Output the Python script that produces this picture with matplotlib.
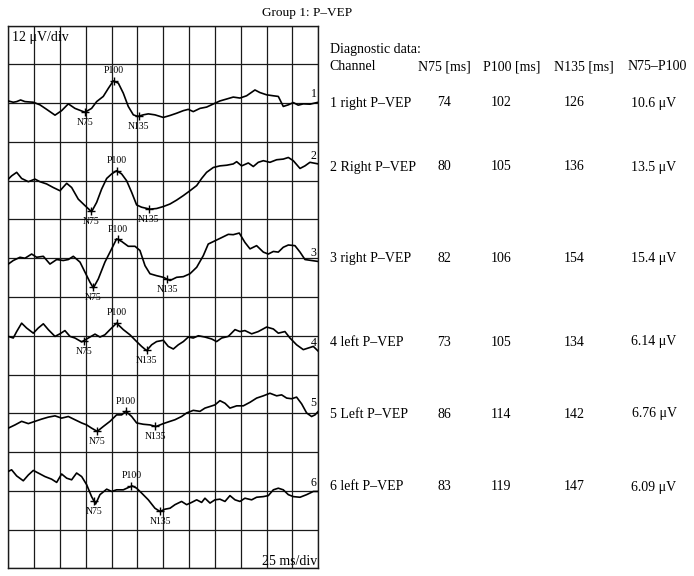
import numpy as np
import matplotlib
matplotlib.use("Agg")
import matplotlib.pyplot as plt

plt.rcParams['font.family'] = ['Liberation Serif', 'DejaVu Serif']

# ---------------- data ----------------
title = "Group 1: P\u2013VEP"
v_scale_label = "12 \u03bcV/div"
t_scale_label = "25 ms/div"
uv_per_div = 12
ms_per_div = 25
n_h_div = 12
n_v_div = 14

channel_ids = [1, 2, 3, 4, 5, 6]
channel_sides = ["right", "Right", "right", "left", "Left", "left"]
n75_ms = [74, 80, 82, 73, 86, 83]
p100_ms = [102, 105, 106, 105, 114, 119]
n135_ms = [126, 136, 154, 134, 142, 147]
n75_p100_uv = ["10.6", "13.5", "15.4", "6.14", "6.76", "6.09"]

ch1_t = [0, 4.8, 8.1, 11.9, 16.1, 24.2, 30.6, 37.1, 45.2, 51.6, 58.1, 64.5, 74.2, 80.6, 85.5, 91.9,
         96.8, 101.6, 106.5, 111.3, 116.1, 121.0, 125.2, 130.6, 135.5, 141.9, 150.0, 156.5, 162.9,
         169.4, 174.2, 179.0, 185.5, 191.9, 200.0, 204.8, 211.3, 217.7, 224.2, 230.6, 238.7, 243.5,
         250.0, 256.5, 261.3, 266.1, 271.0, 275.8, 280.6, 285.5, 291.9, 300.0]
ch1_v = [0.7, 0.3, 0.5, 1.0, 0.5, 0.3, -0.5, -1.9, -3.7, -2.3, -0.2, -1.6, -2.8, -1.6, 0.5, 2.1,
         4.6, 6.9, 6.2, 3.1, -1.0, -3.6, -4.1, -3.6, -3.3, -3.6, -4.4, -3.8, -3.1,
         -2.3, -1.9, -2.6, -1.6, -1.2, 0.0, 0.7, 1.3, 1.9, 1.6, 2.3, 4.1, 3.3,
         2.6, 2.3, 2.1, -1.0, -0.5, 0.2, -0.6, -0.2, -0.3, 0.3]

ch2_t = [0, 3.2, 8.1, 12.9, 19.4, 25.8, 30.6, 37.1, 43.5, 50.0, 56.5, 61.3, 67.7, 74.2, 80.6, 85.5,
         90.3, 95.2, 100.0, 104.8, 109.7, 114.5, 119.4, 124.2, 129.0, 137.1, 143.5, 150.0, 156.5,
         162.9, 169.4, 175.8, 182.3, 187.1, 191.9, 198.4, 204.8, 211.3, 217.7, 221.0, 225.8, 232.3,
         237.1, 241.9, 246.8, 253.2, 259.7, 266.1, 271.0, 275.8, 282.3, 287.1, 291.9, 300.0]
ch2_v = [0.5, 1.5, 2.6, 0.7, -0.3, 0.5, -0.3, -1.0, -2.1, -3.1, -0.8, -2.1, -5.7, -7.7, -9.6, -6.7,
         -2.6, 0.7, 2.1, 3.1, 2.1, 0.0, -3.6, -7.5, -8.2, -8.8, -8.6, -8.0, -7.2,
         -6.0, -4.6, -3.1, -1.5, 0.7, 2.6, 4.1, 4.6, 4.8, 5.2, 5.9, 4.6, 5.5,
         4.4, 5.7, 6.2, 5.7, 6.5, 6.7, 7.2, 6.2, 3.8, 4.6, 5.7, 5.2]

ch3_t = [0, 4.8, 11.3, 16.1, 22.6, 27.4, 33.9, 40.3, 46.8, 53.2, 58.1, 62.9, 69.4, 74.2, 79.0, 82.3,
         87.1, 93.5, 100.0, 104.8, 109.7, 116.1, 122.6, 127.4, 132.3, 137.1, 143.5, 150.0, 156.5,
         162.9, 169.4, 175.8, 182.3, 188.7, 193.5, 200.0, 206.5, 212.9, 217.7, 223.5, 229.0, 233.9,
         240.3, 246.8, 251.6, 256.5, 261.3, 266.1, 271.0, 277.4, 282.3, 287.1, 293.5, 300.0]
ch3_v = [-1.8, -0.7, 0.3, 0.0, 1.3, 0.3, 0.6, -1.8, -0.4, -0.7, -0.4, 0.6, -1.2, -4.3, -7.4, -9.2,
         -6.4, -1.2, 2.9, 6.0, 5.2, 3.7, 3.7, 2.4, -2.3, -4.8, -5.4, -5.9, -6.9,
         -5.9, -5.7, -4.8, -2.8, 0.8, 4.4, 5.4, 6.4, 7.4, 7.3, 7.8, 4.9, 2.9,
         3.9, 1.9, 1.3, 2.1, 1.9, 3.4, 4.1, 3.9, 1.9, -0.4, -0.7, -1.0]

ch4_t = [0, 4.8, 8.1, 12.9, 17.7, 24.2, 29.0, 33.9, 38.7, 45.2, 50.0, 54.8, 59.7, 64.5, 71.0, 77.4,
         83.9, 88.7, 93.5, 98.4, 104.8, 111.3, 117.7, 124.2, 129.0, 133.9, 138.7, 143.5, 150.0,
         154.8, 159.7, 164.5, 169.4, 174.2, 179.0, 183.9, 190.3, 196.8, 201.6, 206.5, 212.9, 219.4,
         224.2, 229.0, 235.5, 241.9, 250.0, 256.5, 261.3, 267.7, 272.6, 279.0, 285.5, 290.3, 295.2, 300.0]
ch4_v = [-0.2, -0.7, 1.3, 3.9, 2.4, 0.8, 2.4, 3.7, 1.9, -0.2, 0.6, 1.6, -0.2, -0.7, -1.9, -0.7,
         0.5, -0.4, 0.3, 1.9, 3.9, 1.9, 0.3, -1.8, -3.3, -4.6, -2.8, -1.8, -1.4,
         -3.3, -4.1, -2.8, -1.8, -0.4, -0.7, 0.0, -0.4, -1.0, -1.8, -0.7, -0.2, 1.9,
         1.3, 1.6, 0.6, 1.3, 2.7, 2.1, 0.8, 1.3, -0.7, -2.8, -4.3, -3.8, -3.3, -4.8]

ch5_t = [0, 6.5, 12.9, 19.4, 25.8, 32.3, 38.7, 45.2, 51.6, 58.1, 64.5, 71.0, 75.8, 80.6, 86.1, 91.9,
         98.4, 104.8, 109.7, 113.9, 119.4, 124.2, 130.6, 137.1, 142.9, 150.0, 156.5, 161.3, 167.7,
         172.6, 179.0, 185.5, 190.3, 195.2, 200.0, 204.8, 209.7, 214.5, 221.0, 227.4, 233.9, 240.3,
         246.8, 253.2, 259.7, 264.5, 269.4, 274.2, 279.0, 283.9, 288.7, 293.5, 296.8, 300.0]
ch5_v = [-4.6, -3.6, -2.5, -3.2, -2.5, -1.8, -1.2, -0.8, -1.5, -1.0, -2.0, -3.0, -3.6, -4.6, -5.6, -4.1,
         -2.5, -0.5, -0.5, 0.6, -1.0, -3.0, -3.4, -3.6, -4.1, -3.2, -2.5, -2.0, -1.0,
         0.1, 0.9, 0.6, 1.6, 2.1, 2.6, 3.9, 3.1, 1.6, 2.3, 2.3, 3.4, 4.7,
         5.4, 6.2, 5.4, 5.7, 4.7, 4.5, 5.0, 2.9, 0.1, -1.0, -0.5, 0.6]

ch6_t = [0, 3.2, 8.1, 14.5, 19.4, 24.2, 29.0, 35.5, 41.9, 46.8, 51.6, 56.5, 61.3, 66.1, 71.0, 75.8,
         80.6, 84.5, 88.7, 95.2, 100.0, 104.8, 111.3, 116.1, 120.0, 124.2, 129.0, 135.5, 141.9,
         146.8, 151.6, 156.5, 161.3, 167.7, 172.6, 177.4, 182.3, 187.1, 190.3, 195.2, 200.0, 204.8,
         209.7, 214.5, 219.4, 224.2, 229.0, 235.5, 240.3, 246.8, 251.6, 256.5, 261.3, 266.1, 271.0,
         275.8, 282.3, 288.7, 295.2, 300.0]
ch6_v = [6.0, 6.5, 4.6, 3.1, 4.9, 6.3, 5.5, 4.4, 3.6, 2.6, 5.2, 3.9, 3.4, 5.5, 4.4, 1.9,
         -1.8, -4.1, -1.2, 0.5, -0.2, 0.3, 0.3, 1.0, 1.5, 0.8, -0.7, -2.8, -5.4,
         -6.4, -5.7, -5.4, -4.3, -3.3, -4.3, -3.6, -2.8, -3.6, -2.3, -3.8, -2.8, -2.6,
         -3.3, -1.5, -2.8, -3.3, -2.3, -2.8, -2.0, -1.8, -1.5, 0.3, 0.8, 0.3, -1.2,
         -1.8, -2.0, -1.2, -0.2, -0.2]

traces_t = [ch1_t, ch2_t, ch3_t, ch4_t, ch5_t, ch6_t]
traces_v = [ch1_v, ch2_v, ch3_v, ch4_v, ch5_v, ch6_v]

# ---------------- figure ----------------
W, H = 694, 576
fig = plt.figure(figsize=(W / 100, H / 100), dpi=100)
fig.patch.set_facecolor('white')

def fx(px):
    return px / W

def fy(py):
    return 1 - py / H

left_px, right_px, top_px, bot_px = 8.3, 318.3, 25.7, 568.3
ax = fig.add_axes([fx(left_px), fy(bot_px), (right_px - left_px) / W, (bot_px - top_px) / H])

t_max = ms_per_div * n_h_div
y_top = 0
y_bot = -uv_per_div * n_v_div
ax.set_xlim(0, t_max)
ax.set_ylim(y_bot, y_top)
ax.set_xticks(np.arange(0, t_max + 1, ms_per_div))
ax.set_yticks(np.arange(y_bot, y_top + 1, uv_per_div))
ax.tick_params(length=0, labelbottom=False, labelleft=False)
ax.grid(True, color='#1a1a1a', linewidth=0.9)
for s in ax.spines.values():
    s.set_color('#1a1a1a')
    s.set_linewidth(1.0)

lab_fs = 7
for i, (t, v) in enumerate(zip(traces_t, traces_v)):
    base = y_top - 2 * uv_per_div * (i + 1)
    t = np.asarray(t, float)
    v = np.asarray(v, float)
    ax.plot(t, v + base, color='black', linewidth=1.2, zorder=3)
    for lat, name, up in [(n75_ms[i], "N75", False), (p100_ms[i], "P100", True), (n135_ms[i], "N135", False)]:
        yv = np.interp(lat, t, v) + base
        ax.plot([lat], [yv], marker='+', color='black', markersize=6, mew=1.0, zorder=4)
        ax.annotate(name, (lat, yv), xytext=(0, 7.5 if up else -7.5), textcoords='offset points',
                    ha='center', va='center', fontsize=lab_fs, zorder=5)
    ax.annotate(str(channel_ids[i]), (t[-1], v[-1] + base), xytext=(-1.2, 6), textcoords='offset points',
                ha='right', va='center', fontsize=8.5, zorder=5)

ax.text(0.013, 0.979, v_scale_label, transform=ax.transAxes, ha='left', va='center', fontsize=10)
ax.text(0.995, 0.013, t_scale_label, transform=ax.transAxes, ha='right', va='center', fontsize=10)

fig.text(fx(307), fy(13), title, ha='center', va='center', fontsize=9.5)

# ---------------- table ----------------
fs = 10
fig.text(fx(329.5), fy(50), "Diagnostic data:", ha='left', va='center', fontsize=fs)
hdr_y = 67
fig.text(fx(329.5), fy(hdr_y), "Channel", ha='left', va='center', fontsize=fs)
col_hdr = ["N75 [ms]", "P100 [ms]", "N135 [ms]", "N75\u2013P100"]
col_hdr_x = [444, 511.5, 584, 657]
for h, cx in zip(col_hdr, col_hdr_x):
    fig.text(fx(cx), fy(hdr_y), h, ha='center', va='center', fontsize=fs)

row_y = [103, 167, 258, 342, 414, 487]
val_x = [444, 501, 574, 654]
for i in range(len(channel_ids)):
    ry = row_y[i]
    fig.text(fx(329.5), fy(ry), f"{channel_ids[i]} {channel_sides[i]} P\u2013VEP", ha='left', va='center', fontsize=fs)
    vals = [str(n75_ms[i]), str(p100_ms[i]), str(n135_ms[i]), n75_p100_uv[i] + " \u03bcV"]
    for s, cx in zip(vals, val_x):
        fig.text(fx(cx), fy(ry), s, ha='center', va='center', fontsize=fs)

fig.savefig("out.png", dpi=100)
